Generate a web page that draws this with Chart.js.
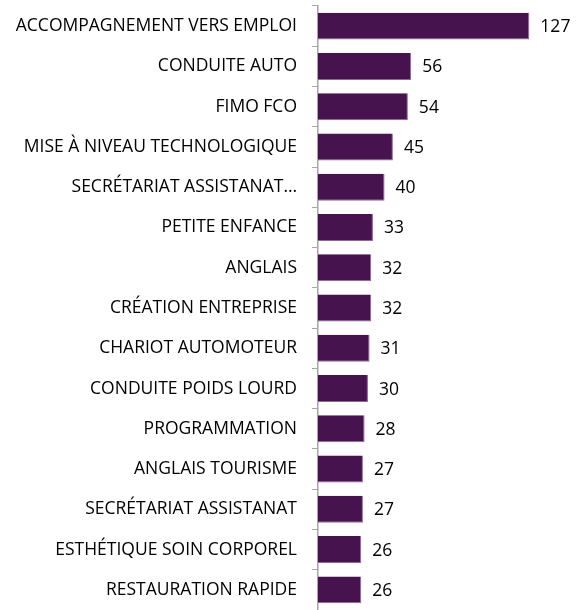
<!DOCTYPE html>
<html>
<head>
<meta charset="utf-8">
<script src="https://cdn.jsdelivr.net/npm/chart.js@4/dist/chart.umd.min.js"></script>
<style>
html,body{margin:0;padding:0;background:#fff;}
#wrap{width:580px;height:610px;position:relative;}
</style>
</head>
<body>
<div id="wrap"><canvas id="c" width="580" height="610"></canvas></div>
<script>
const categories = [
  "ACCOMPAGNEMENT VERS EMPLOI",
  "CONDUITE AUTO",
  "FIMO FCO",
  "MISE À NIVEAU TECHNOLOGIQUE",
  "SECRÉTARIAT ASSISTANAT…",
  "PETITE ENFANCE",
  "ANGLAIS",
  "CRÉATION ENTREPRISE",
  "CHARIOT AUTOMOTEUR",
  "CONDUITE POIDS LOURD",
  "PROGRAMMATION",
  "ANGLAIS TOURISME",
  "SECRÉTARIAT ASSISTANAT",
  "ESTHÉTIQUE SOIN CORPOREL",
  "RESTAURATION RAPIDE"
];
const values = [127, 56, 54, 45, 40, 33, 32, 32, 31, 30, 28, 27, 27, 26, 26];

const valueLabels = {
  id: 'valueLabels',
  afterDatasetsDraw(chart) {
    const ctx = chart.ctx;
    const meta = chart.getDatasetMeta(0);
    ctx.save();
    ctx.font = '17.5px "Open Sans"';
    ctx.fillStyle = '#000';
    ctx.textAlign = 'left';
    ctx.textBaseline = 'middle';
    meta.data.forEach((bar, i) => {
      ctx.fillText(String(values[i]), bar.x + 11, bar.y + 1);
    });
    ctx.restore();
  }
};

new Chart(document.getElementById('c'), {
  type: 'bar',
  data: {
    labels: categories,
    datasets: [{
      data: values,
      backgroundColor: '#47134F',
      borderColor: '#8C6A93',
      borderWidth: {top: 0, left: 0, right: 1, bottom: 1},
      barPercentage: 0.67,
      categoryPercentage: 1.0
    }]
  },
  options: {
    indexAxis: 'y',
    responsive: false,
    animation: false,
    events: [],
    layout: { padding: { top: 6, right: 29, bottom: 0, left: 0 } },
    plugins: { legend: { display: false }, tooltip: { enabled: false } },
    scales: {
      x: { display: false, min: 0, max: 140 },
      y: {
        afterFit(scale) { scale.width = 318; scale.paddingTop = 0; scale.paddingBottom = 0; },
        grid: { offset: true, drawOnChartArea: false, tickLength: 6, color: '#A6A6A6', lineWidth: 1 },
        border: { color: '#A6A6A6', width: 1.5 },
        ticks: { font: { family: 'Open Sans', size: 17.5 }, color: '#000', padding: 15, autoSkip: false }
      }
    }
  },
  plugins: [valueLabels]
});
</script>
</body>
</html>
